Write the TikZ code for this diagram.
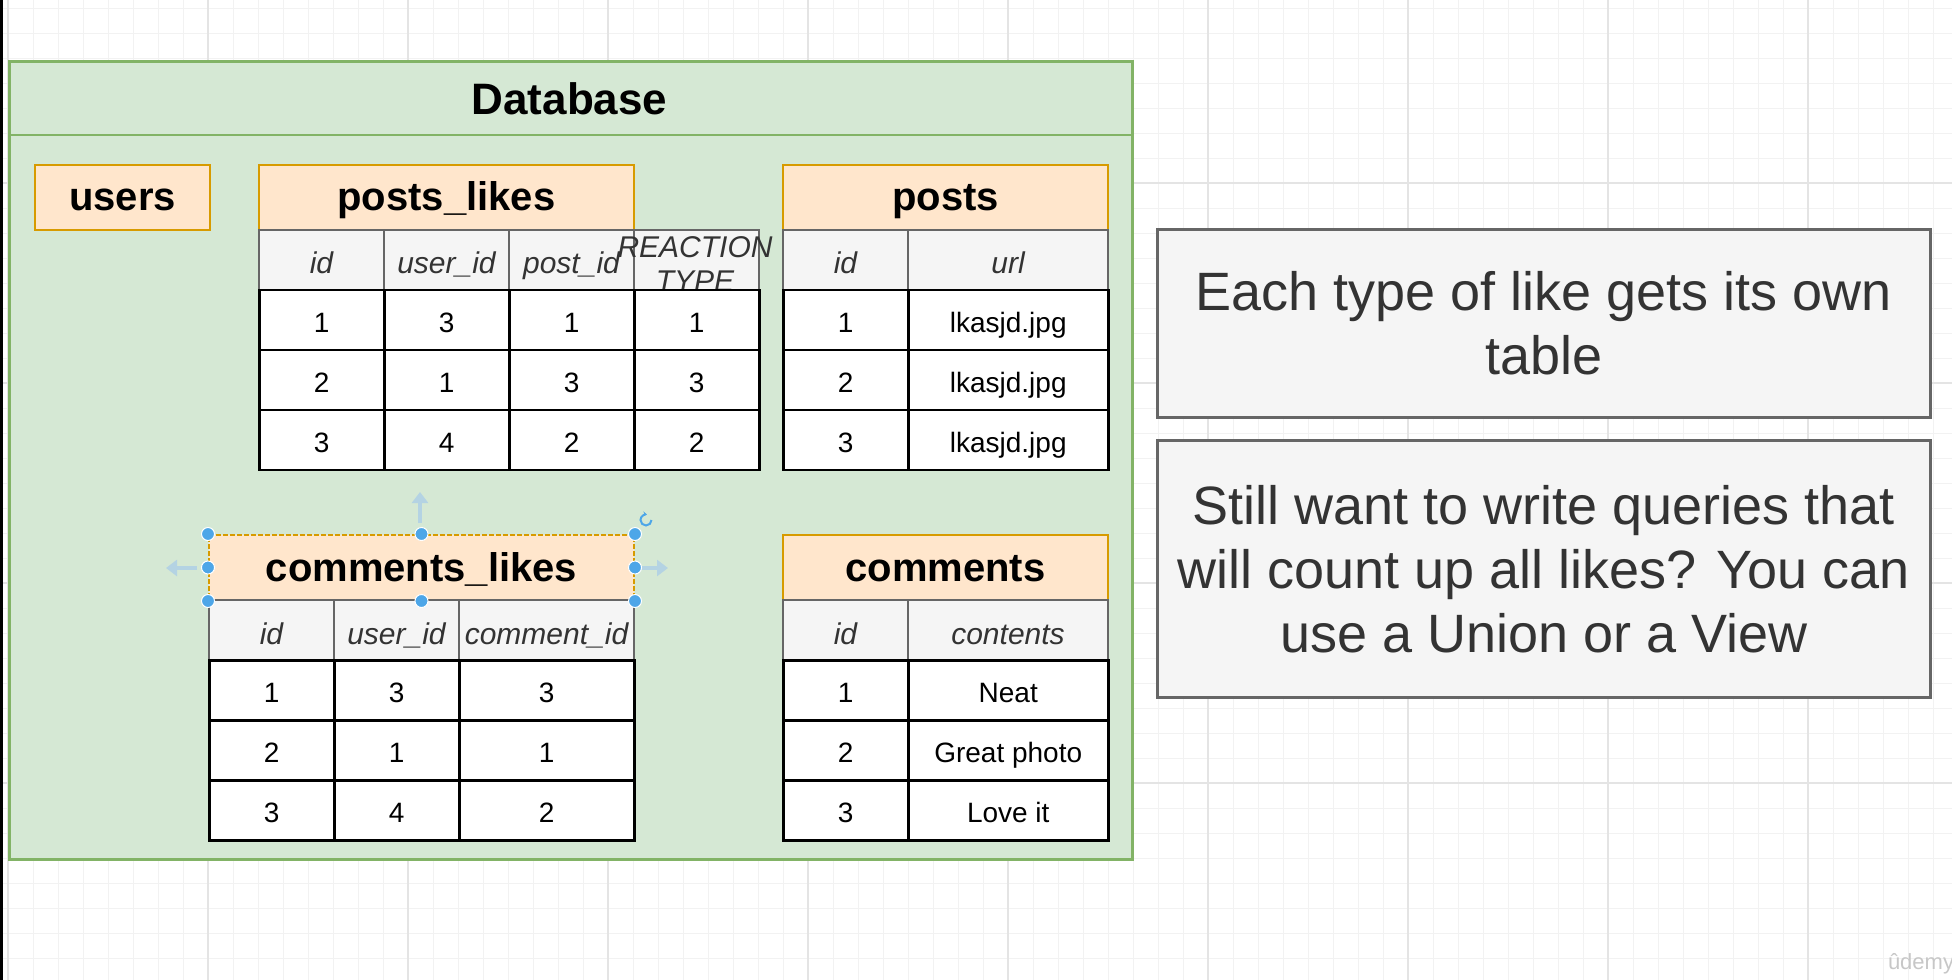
\documentclass[tikz,border=0pt]{standalone}
\usepackage{fontspec}
\setmainfont{Liberation Sans}
\usetikzlibrary{arrows.meta}

\definecolor{dbfill}{HTML}{D5E8D4}
\definecolor{dbline}{HTML}{82B366}
\definecolor{tfill}{HTML}{FFE6CC}
\definecolor{tline}{HTML}{D79B00}
\definecolor{hfill}{HTML}{F5F5F5}
\definecolor{hline}{HTML}{666666}
\definecolor{htext}{HTML}{333333}
\definecolor{hblue}{HTML}{4DA6E8}
\definecolor{lblue}{HTML}{B4D3E3}
\definecolor{gridminor}{HTML}{F2F2F2}
\definecolor{gridmajor}{HTML}{E4E4E4}

\tikzset{
  dbbox/.style={draw=dbline, fill=dbfill, line width=2.5pt, anchor=north west, inner sep=0pt},
  dbtitle/.style={font=\fontsize{44}{50}\selectfont\bfseries},
  tname/.style={draw=tline, fill=tfill, line width=2pt, anchor=north west, inner sep=0pt,
    minimum height=65pt, text height=27pt, text depth=0pt, font=\fontsize{40}{44}\selectfont\bfseries},
  hcell/.style={draw=hline, fill=hfill, line width=2pt, anchor=north west, inner sep=0pt,
    minimum height=60pt, text height=28pt, text depth=0pt, text=htext, font=\fontsize{30}{34}\selectfont\itshape},
  htxt/.style={align=center, inner sep=0pt, text=htext, font=\fontsize{30}{34}\selectfont\itshape},
  dcell/.style={draw=black, fill=white, line width=2.5pt, anchor=north west, inner sep=0pt,
    minimum height=60pt, text height=25pt, text depth=0pt, font=\fontsize{28}{32}\selectfont},
  note/.style={draw=hline, fill=hfill, line width=2.5pt, anchor=north west, inner sep=0pt,
    align=center, text=htext, font=\fontsize{54}{64}\selectfont},
  handle/.style={circle, fill=hblue, draw=white, line width=1pt, minimum size=13pt, inner sep=0pt},
  harrow/.style={draw=lblue, line width=4.5pt, -{Triangle[width=16pt,length=11pt]}},
  wmark/.style={text=black!22, font=\fontsize{22}{24}\selectfont}
}

\begin{document}
\begin{tikzpicture}[x=1pt,y=-1pt]
\useasboundingbox (0,0) rectangle (1952,980);
\begin{scope}

% grid
\foreach \x in {8,33,...,1958} \draw[gridminor, line width=1pt] (\x,0) -- (\x,980);
\foreach \y in {8,33,...,983} \draw[gridminor, line width=1pt] (0,\y) -- (1952,\y);
\foreach \x in {8,208,...,1808} \draw[gridmajor, line width=1.2pt] (\x,0) -- (\x,980);
\foreach \y in {183,383,583,783} \draw[gridmajor, line width=1.2pt] (0,\y) -- (1952,\y);
\fill[black] (0,0) rectangle (2.5,980);

% database container
\node[dbbox, minimum width=1123pt, minimum height=798pt] (db) at (8,60) {};
\coordinate (dbL) at (8,135);
\coordinate (dbR) at (1131,135);
\draw[dbline, line width=2.5pt] (dbL) -- (dbR);
\node[dbtitle] (dbt) at (569.5,99) {Database};

% users
\node[tname, minimum width=175pt] (users) at (34,163.5) {users};

% posts_likes
\node[tname, minimum width=375pt] (pl) at (258,163.5) {posts\_likes};
\foreach \t [count=\c from 0] in {id,user\_id,post\_id,{}}
  \node[hcell, minimum width=125pt] (pl-h\c) at (258+125*\c,228.5) {\t};
\node[htxt] (pl-rt) at (695,264) {REACTION\\TYPE};
\foreach \row [count=\r from 0] in {{1,3,1,1},{2,1,3,3},{3,4,2,2}}
  \foreach \v [count=\c from 0] in \row
    \node[dcell, minimum width=125pt] (pl-\r-\c) at (258+125*\c,288.5+60*\r) {\v};

% posts
\node[tname, minimum width=325pt] (p) at (782,163.5) {posts};
\node[hcell, minimum width=125pt] (p-h0) at (782,228.5) {id};
\node[hcell, minimum width=200pt] (p-h1) at (907,228.5) {url};
\foreach \a/\b [count=\r from 0] in {1/lkasjd.jpg,2/lkasjd.jpg,3/lkasjd.jpg} {
  \node[dcell, minimum width=125pt] (p-\r-0) at (782,288.5+60*\r) {\a};
  \node[dcell, minimum width=200pt] (p-\r-1) at (907,288.5+60*\r) {\b};
}

% comments_likes
\node[tname, minimum width=425pt, dash pattern=on 5pt off 2pt] (cl) at (208,534) {comments\_likes};
\foreach \t/\w/\x [count=\c from 0] in {id/125/208,user\_id/125/333,comment\_id/175/458}
  \node[hcell, minimum width=\w pt] (cl-h\c) at (\x,599) {\t};
\foreach \a/\b/\cc [count=\r from 0] in {1/3/3,2/1/1,3/4/2} {
  \node[dcell, minimum width=125pt] (cl-\r-0) at (208,659+60*\r) {\a};
  \node[dcell, minimum width=125pt] (cl-\r-1) at (333,659+60*\r) {\b};
  \node[dcell, minimum width=175pt] (cl-\r-2) at (458,659+60*\r) {\cc};
}

% comments
\node[tname, minimum width=325pt] (cm) at (782,534) {comments};
\node[hcell, minimum width=125pt] (cm-h0) at (782,599) {id};
\node[hcell, minimum width=200pt] (cm-h1) at (907,599) {contents};
\foreach \a/\b [count=\r from 0] in {1/Neat,2/Great photo,3/Love it} {
  \node[dcell, minimum width=125pt] (cm-\r-0) at (782,659+60*\r) {\a};
  \node[dcell, minimum width=200pt] (cm-\r-1) at (907,659+60*\r) {\b};
}

% selection handles on comments_likes
\foreach \a [count=\i] in {north west,north,north east,west,east,south west,south,south east}
  \node[handle] (hd\i) at (cl.\a) {};
\coordinate (upA) at (420,523);
\coordinate (upB) at (420,492);
\coordinate (lfA) at (197,568);
\coordinate (lfB) at (166,568);
\coordinate (rtA) at (642,568);
\coordinate (rtB) at (668,568);
\draw[harrow] (upA) -- (upB);
\draw[harrow] (lfA) -- (lfB);
\draw[harrow] (rtA) -- (rtB);
\draw[hblue, line width=2pt, -{Stealth[length=4pt,width=5pt]}] (651.5,520) arc[start angle=0, end angle=280, radius=5.5];

% notes
\node[note, minimum width=773pt, minimum height=188pt] (n1) at (1156,228)
  {Each type of like gets its own\\table};
\node[note, minimum width=773pt, minimum height=257pt] (n2) at (1156,439)
  {Still want to write queries that\\will count up all likes? You can\\use a Union or a View};

\node[wmark] (udemy) at (1921,964) {\^udemy};

\end{scope}
\end{tikzpicture}
\end{document}
